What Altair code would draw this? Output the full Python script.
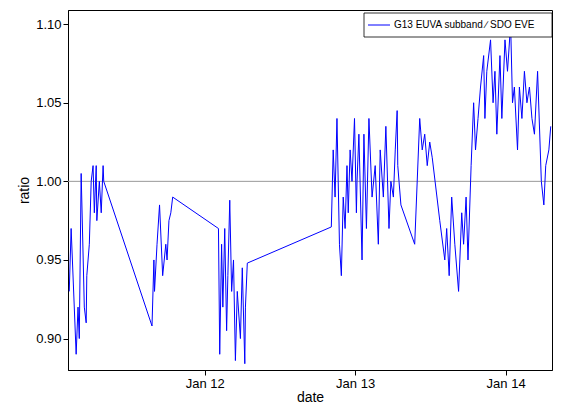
import altair as alt
import pandas as pd

hours = [2.4,2.7,3.5,3.8,4.0,4.3,4.8,5.1,5.2,5.6,5.9,6.2,6.4,6.7,6.8,7.2,7.5,7.8,7.9,
 15.6,15.9,16.0,16.4,16.8,17.3,17.8,18.0,18.3,18.6,18.9,
 26.2,26.4,26.7,26.9,27.2,27.5,27.7,28.0,28.3,28.6,28.9,29.2,29.7,30.0,30.4,30.5,30.8,
 44.2,44.5,44.8,45.1,45.5,45.8,46.1,46.4,46.7,46.9,47.2,47.5,47.9,48.2,48.3,48.6,49.1,49.4,49.8,50.2,50.7,51.2,51.7,52.0,52.5,52.9,53.4,53.7,54.1,54.4,54.7,54.8,55.0,55.3,
 57.5,58.3,58.7,59.1,59.5,59.9,60.3,61.5,62.3,62.6,63.0,63.4,63.9,64.5,65.0,65.3,65.7,66.0,66.5,66.9,67.2,67.6,68.0,68.5,68.7,69.0,69.6,70.0,70.3,70.6,71.1,71.4,71.9,72.3,72.8,73.1,73.4,73.9,74.2,74.6,75.0,75.4,75.8,76.2,76.6,77.1,77.7,78.1,78.4,78.9,79.2]
ratio = [0.93,0.97,0.89,0.92,0.90,1.005,0.92,0.91,0.94,0.96,1.0,1.01,0.98,1.01,0.975,1.0,0.98,1.01,1.0,
 0.908,0.95,0.93,0.96,0.985,0.94,0.96,0.95,0.975,0.98,0.99,
 0.97,0.89,0.96,0.92,0.97,0.905,0.94,0.988,0.93,0.95,0.886,0.93,0.90,0.945,0.884,0.92,0.948,
 0.971,1.02,0.99,1.04,0.96,0.94,0.99,0.97,1.01,0.98,1.02,1.0,1.04,0.98,1.0,1.03,0.95,1.03,0.97,1.04,0.99,1.01,0.96,1.02,0.99,1.035,0.97,1.0,0.99,1.02,1.045,1.01,1.0,0.985,
 0.96,1.04,1.02,1.03,1.01,1.025,1.015,0.975,0.95,0.97,0.94,0.99,0.96,0.93,0.98,0.96,0.99,0.95,1.01,1.05,1.02,1.04,1.06,1.08,1.04,1.07,1.09,1.05,1.07,1.03,1.08,1.04,1.09,1.07,1.1,1.05,1.06,1.02,1.06,1.04,1.07,1.05,1.06,1.04,1.03,1.07,1.0,0.985,1.01,1.02,1.035]

tick_hours = [24, 48, 72]
tick_labels = ["Jan 12", "Jan 13", "Jan 14"]

df = pd.DataFrame({"h": hours, "r": ratio})
lab = "datum.value==24?'Jan 12':datum.value==48?'Jan 13':'Jan 14'"
font = "Liberation Sans"

x = alt.X("h:Q", scale=alt.Scale(domain=[2.2, 79.4], nice=False, zero=False),
          axis=alt.Axis(values=tick_hours, labelExpr=lab, title="date", grid=False,
                        labelPadding=2, titlePadding=0))
y = alt.Y("r:Q", scale=alt.Scale(domain=[0.880, 1.109], nice=False, zero=False),
          axis=alt.Axis(values=[0.90,0.95,1.00,1.05,1.10], format=".2f", title="ratio", grid=False))

line = alt.Chart(df).mark_line(color="#0000ff", strokeWidth=1).encode(x=x, y=y)
ref = alt.Chart(pd.DataFrame({"r": [1.0]})).mark_rule(color="#999999").encode(y="r:Q")
box = alt.Chart(pd.DataFrame({"a": [0]})).mark_rect(fill="white", stroke="black", strokeWidth=0.8).encode(
    x=alt.value(296), x2=alt.value(484), y=alt.value(3), y2=alt.value(27))
leg_line = alt.Chart(pd.DataFrame({"a": [0]})).mark_rule(color="#0000ff").encode(
    x=alt.value(300), x2=alt.value(322), y=alt.value(15))
leg_text = alt.Chart(pd.DataFrame({"t": ["G13 EUVA subband ∕ SDO EVE"]})).mark_text(
    align="left", fontSize=10, font=font).encode(x=alt.value(326), y=alt.value(15), text="t:N")

chart = alt.layer(ref, line, box, leg_line, leg_text).properties(
    width=484, height=360, autosize="none",
    padding={"left": 60, "top": 2, "right": 8, "bottom": 33}
).configure_view(stroke="black", strokeWidth=1).configure_axis(
    labelFont=font, titleFont=font, labelFontSize=13, titleFontSize=14,
    titleFontWeight="normal", domainColor="black", tickColor="black", labelColor="black"
)
chart.save("out.html", embed_options={"renderer": "svg", "actions": False})
